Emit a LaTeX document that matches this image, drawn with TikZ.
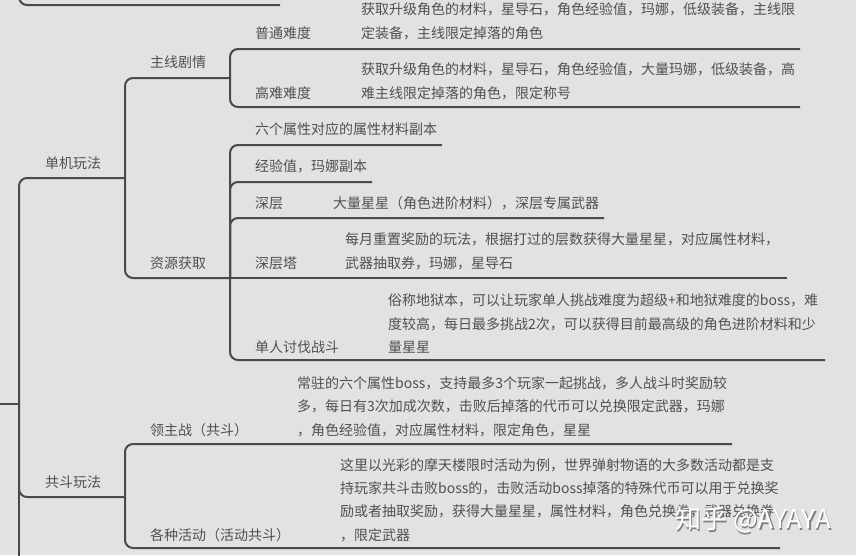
\documentclass[tikz,border=0pt]{standalone}
\usepackage{fontspec}
\setmainfont{Noto Sans CJK SC}
\definecolor{bgc}{HTML}{E2E2E2}
\definecolor{linec}{HTML}{4A4A4A}
\definecolor{txtc}{HTML}{505050}
\begin{document}
\begin{tikzpicture}[x=1pt,y=-1pt,
  conn/.style={draw=linec,line width=2pt,rounded corners=8pt},
  lbl/.style={anchor=west,inner sep=0pt,text=txtc,font=\fontsize{14pt}{23.4pt}\selectfont},
  detail/.style={lbl,align=left},
  wm/.style={anchor=west,inner sep=0pt,font=\fontsize{26pt}{28pt}\selectfont}]
\useasboundingbox (0,0) rectangle (856,555);
\fill[bgc] (0,0) rectangle (856,555);

% coordinates of junctions / underline ends
\coordinate (root) at (0,404);
\coordinate (rj) at (19,404);
\coordinate (below) at (19,560);
\coordinate (topA) at (19,-12);
\coordinate (topB) at (280,5);

\coordinate (dj) at (125,178);
\coordinate (gd) at (125,497);
\coordinate (zx) at (230,78);
\coordinate (zy) at (230,278);
\coordinate (pt) at (800,49);
\coordinate (gn) at (800,107);
\coordinate (lg) at (442,145);
\coordinate (jy) at (372,182);
\coordinate (sc) at (604,218);
\coordinate (sct) at (787,278);
\coordinate (dr) at (825,360);
\coordinate (lz) at (732,444);
\coordinate (hd) at (780,548);

% connectors
\draw[conn] (topA) |- (topB);
\draw[conn] (root) -- (rj);
\draw[conn] (rj) -- (below);
\draw[conn] (rj) |- (dj);
\draw[conn] (rj) |- (gd);
\draw[conn] (dj) |- (zx);
\draw[conn] (dj) |- (zy);
\draw[conn] (zx) |- (pt);
\draw[conn] (zx) |- (gn);
\draw[conn] (zy) |- (lg);
\draw[conn] (zy) |- (jy);
\draw[conn] (zy) |- (sc);
\draw[conn] (zy) -- (sct);
\draw[conn] (zy) |- (dr);
\draw[conn] (gd) |- (lz);
\draw[conn] (gd) |- (hd);

% labels
\node[lbl] (djt) at (45,163) {单机玩法};
\node[lbl] (gdt) at (45,482) {共斗玩法};
\node[lbl] (zxt) at (150,62) {主线剧情};
\node[lbl] (zyt) at (150,263) {资源获取};
\node[lbl] (ptt) at (255,33) {普通难度};
\node[detail] (ptd) at (361,21.5) {获取升级角色的材料，星导石，角色经验值，玛娜，低级装备，主线限\\定装备，主线限定掉落的角色};
\node[lbl] (gnt) at (255,93) {高难难度};
\node[detail] (gnd) at (361,81.5) {获取升级角色的材料，星导石，角色经验值，大量玛娜，低级装备，高\\难主线限定掉落的角色，限定称号};
\node[lbl] (lgt) at (255,129) {六个属性对应的属性材料副本};
\node[lbl] (jyt) at (255,166) {经验值，玛娜副本};
\node[lbl] (sct1) at (255,203) {深层};
\node[lbl] (scd) at (333,203) {大量星星（角色进阶材料），深层专属武器};
\node[lbl] (sctt) at (255,263) {深层塔};
\node[detail] (sctd) at (345,251.5) {每月重置奖励的玩法，根据打过的层数获得大量星星，对应属性材料，\\武器抽取券，玛娜，星导石};
\node[lbl] (drt) at (255,347) {单人讨伐战斗};
\node[detail] (drd) at (388,323.5) {俗称地狱本，可以让玩家单人挑战难度为超级+和地狱难度的boss，难\\度较高，每日最多挑战2次，可以获得目前最高级的角色进阶材料和少\\量星星};
\node[lbl] (lzt) at (150,430) {领主战（共斗）};
\node[detail] (lzd) at (297,406.5) {常驻的六个属性boss，支持最多3个玩家一起挑战，多人战斗时奖励较\\多，每日有3次加成次数，击败后掉落的代币可以兑换限定武器，玛娜\\，角色经验值，对应属性材料，限定角色，星星};
\node[lbl] (hdt) at (150,535) {各种活动（活动共斗）};
\node[detail] (hdd) at (340,500) {这里以光彩的摩天楼限时活动为例，世界弹射物语的大多数活动都是支\\持玩家共斗击败boss的，击败活动boss掉落的特殊代币可以用于兑换奖\\励或者抽取奖励，获得大量星星，属性材料，角色兑换券，武器兑换券\\，限定武器};

% watermark
\node[wm,text=black!50] (wmshadow) at (676.5,521.5) {知乎 @AYAYA};
\node[wm,text=white] (wmark) at (675,520) {知乎 @AYAYA};
\end{tikzpicture}
\end{document}
